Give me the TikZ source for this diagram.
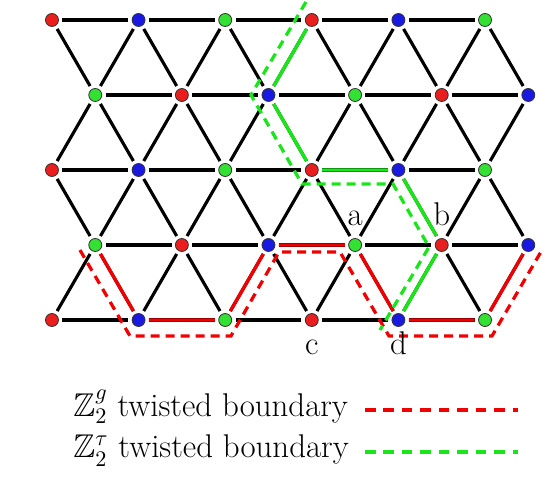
\documentclass[tikz,border=0pt]{standalone}
\usepackage{amssymb}
\usetikzlibrary{calc}
\definecolor{sitered}{RGB}{235,30,30}
\definecolor{siteblue}{RGB}{25,25,225}
\definecolor{sitegreen}{RGB}{50,225,50}
\definecolor{bdred}{RGB}{240,0,0}
\definecolor{bdgreen}{RGB}{25,230,25}

\begin{document}
\begin{tikzpicture}[
    site/.style={circle,draw=black!80,thin,minimum size=6.4pt,inner sep=0pt,outer sep=1.9pt},
    bond/.style={line width=1.55pt},
    lbl/.style={inner sep=0pt,font=\fontsize{16.2}{19}\selectfont},
    redbd/.style={bdred,line width=1.6pt,dash pattern=on 4.4pt off 3pt},
    grnbd/.style={bdgreen,line width=1.6pt,dash pattern=on 4.4pt off 3pt},
    keydash/.style={line width=1.9pt,dash pattern=on 5.2pt off 3.9pt}
  ]
  \useasboundingbox (-0.9,0.346) rectangle (8.695,-7.898);
  % sites of the triangular lattice
  \foreach \row in {0,2,4}
    \foreach \col [count=\i from 0] in {sitered,siteblue,sitegreen,sitered,siteblue,sitegreen} {
      \pgfmathtruncatemacro\k{2*\i}
      \node[site,fill=\col] (v\row-\k) at (0.75*\k,-1.299*\row) {};
    }
  \foreach \row in {1,3}
    \foreach \col [count=\i from 0] in {sitegreen,sitered,siteblue,sitegreen,sitered,siteblue} {
      \pgfmathtruncatemacro\k{2*\i+1}
      \node[site,fill=\col] (v\row-\k) at (0.75*\k,-1.299*\row) {};
    }
  % horizontal bonds
  \foreach \row/\first in {0/0,1/1,2/0,3/1,4/0}
    \foreach \k in {0,2,...,8} {
      \pgfmathtruncatemacro\ka{\first+\k}
      \pgfmathtruncatemacro\kb{\first+\k+2}
      \draw[bond] (v\row-\ka) -- (v\row-\kb);
    }
  % slanted bonds
  \foreach \row/\nxt in {0/1,2/3} {
    \foreach \k in {0,2,...,10} {
      \pgfmathtruncatemacro\kr{\k+1}
      \draw[bond] (v\row-\k) -- (v\nxt-\kr);
    }
    \foreach \k in {2,4,...,10} {
      \pgfmathtruncatemacro\kl{\k-1}
      \draw[bond] (v\row-\k) -- (v\nxt-\kl);
    }
  }
  \foreach \row/\nxt in {1/2,3/4} {
    \foreach \k in {1,3,...,11} {
      \pgfmathtruncatemacro\kl{\k-1}
      \draw[bond] (v\row-\k) -- (v\nxt-\kl);
    }
    \foreach \k in {1,3,...,9} {
      \pgfmathtruncatemacro\kr{\k+1}
      \draw[bond] (v\row-\k) -- (v\nxt-\kr);
    }
  }
  % twisted bonds
  \draw[bond,bdred,line width=1.65pt] (v3-1) -- (v4-2) -- (v4-4) -- (v3-5) -- (v3-7) -- (v4-8) -- (v4-10) -- (v3-11);
  \draw[bond,bdgreen,line width=1.65pt] (v0-6) -- (v1-5) -- (v2-6) -- (v2-8) -- (v3-9) -- (v4-8);
  % boundaries
  \draw[redbd] (0.485,-3.984) -- (1.351,-5.473) -- (3.100,-5.473) -- (3.932,-4.018)
    -- (4.988,-4.018) -- (5.837,-5.473) -- (7.621,-5.473) -- (8.487,-3.984);
  \draw[grnbd] (4.399,0.312) -- (3.447,-1.299) -- (4.330,-2.840) -- (5.906,-2.840)
    -- (6.530,-3.932) -- (5.681,-5.369);
  % site labels
  \node[lbl,anchor=base] (la) at ($(v3-7)+(0,0.33)$) {a};
  \node[lbl,anchor=base] (lb) at ($(v3-9)+(0,0.33)$) {b};
  \node[lbl,anchor=base] (lc) at ($(v4-6)+(0,-0.606)$) {c};
  \node[lbl,anchor=base] (ld) at ($(v4-8)+(0,-0.606)$) {d};
  % legend
  \node[lbl,anchor=base west] (key1) at (0.364,-6.859) {$\mathbb{Z}_2^g$ twisted boundary};
  \node[lbl,anchor=base west] (key2) at (0.364,-7.586) {$\mathbb{Z}_2^\tau$ twisted boundary};
  \draw[redbd,keydash] (5.421,-6.755) -- (8.071,-6.755);
  \draw[grnbd,keydash] (5.421,-7.482) -- (8.071,-7.482);
\end{tikzpicture}
\end{document}
